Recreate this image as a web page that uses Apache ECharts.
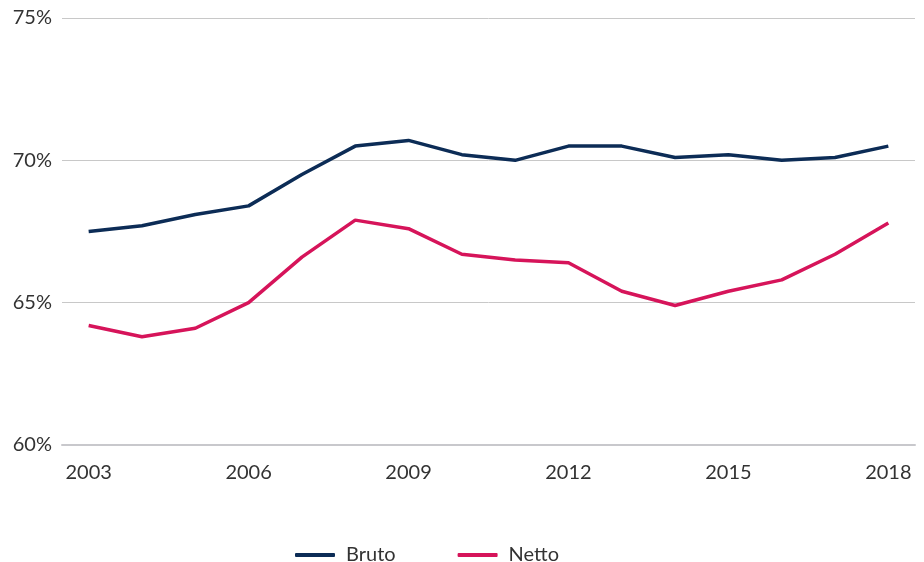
<!DOCTYPE html>
<html>
<head>
<meta charset="utf-8">
<script src="https://cdn.jsdelivr.net/npm/echarts@6/dist/echarts.min.js"></script>
<style>
  html, body { margin: 0; padding: 0; background: #fff; }
  #chart { width: 924px; height: 562px; }
</style>
</head>
<body>
<div id="chart"></div>
<script>
var years = ['2003', '2004', '2005', '2006', '2007', '2008', '2009', '2010',
             '2011', '2012', '2013', '2014', '2015', '2016', '2017', '2018'];
var bruto = [67.5, 67.7, 68.1, 68.4, 69.5, 70.5, 70.7, 70.2, 70.0, 70.5, 70.5, 70.1, 70.2, 70.0, 70.1, 70.5];
var netto = [64.2, 63.8, 64.1, 65.0, 66.6, 67.9, 67.6, 66.7, 66.5, 66.4, 65.4, 64.9, 65.4, 65.8, 66.7, 67.8];

var dom = document.getElementById('chart');
var myChart = echarts.init(dom, null, { renderer: 'canvas' });

var font = 'Lato, "Open Sans", sans-serif';

var option = {
    animation: false,
    grid: { left: 62, right: 9, top: 18, bottom: 117 },
    legend: {
        top: 540,
        left: 290,
        itemWidth: 40,
        itemHeight: 4,
        itemGap: 62,
        icon: 'roundRect',
        textStyle: { fontFamily: font, fontSize: 20, color: '#333', padding: [0, 0, 0, 6] },
        data: ['Bruto', 'Netto']
    },
    xAxis: {
        type: 'category',
        data: years,
        boundaryGap: true,
        axisLine: { show: true, lineStyle: { color: '#c8c8cc', width: 2 } },
        axisTick: { show: false },
        axisLabel: { interval: 2, fontFamily: font, fontSize: 20, color: '#333', margin: 18 }
    },
    yAxis: {
        type: 'value',
        min: 60,
        max: 75,
        interval: 5,
        axisLine: { show: false },
        axisTick: { show: false },
        axisLabel: { formatter: '{value}%', fontFamily: font, fontSize: 20, color: '#333', margin: 10 },
        splitLine: { lineStyle: { color: '#c8c8c8', width: 1 } }
    },
    series: [
        {
            name: 'Bruto',
            type: 'line',
            data: bruto,
            symbol: 'none',
            itemStyle: { color: '#0c2c56' },
            lineStyle: { width: 3.5, color: '#0c2c56' }
        },
        {
            name: 'Netto',
            type: 'line',
            data: netto,
            symbol: 'none',
            itemStyle: { color: '#d6145a' },
            lineStyle: { width: 3.5, color: '#d6145a' }
        }
    ]
};

myChart.setOption(option);
window.addEventListener('resize', myChart.resize);
</script>
</body>
</html>
